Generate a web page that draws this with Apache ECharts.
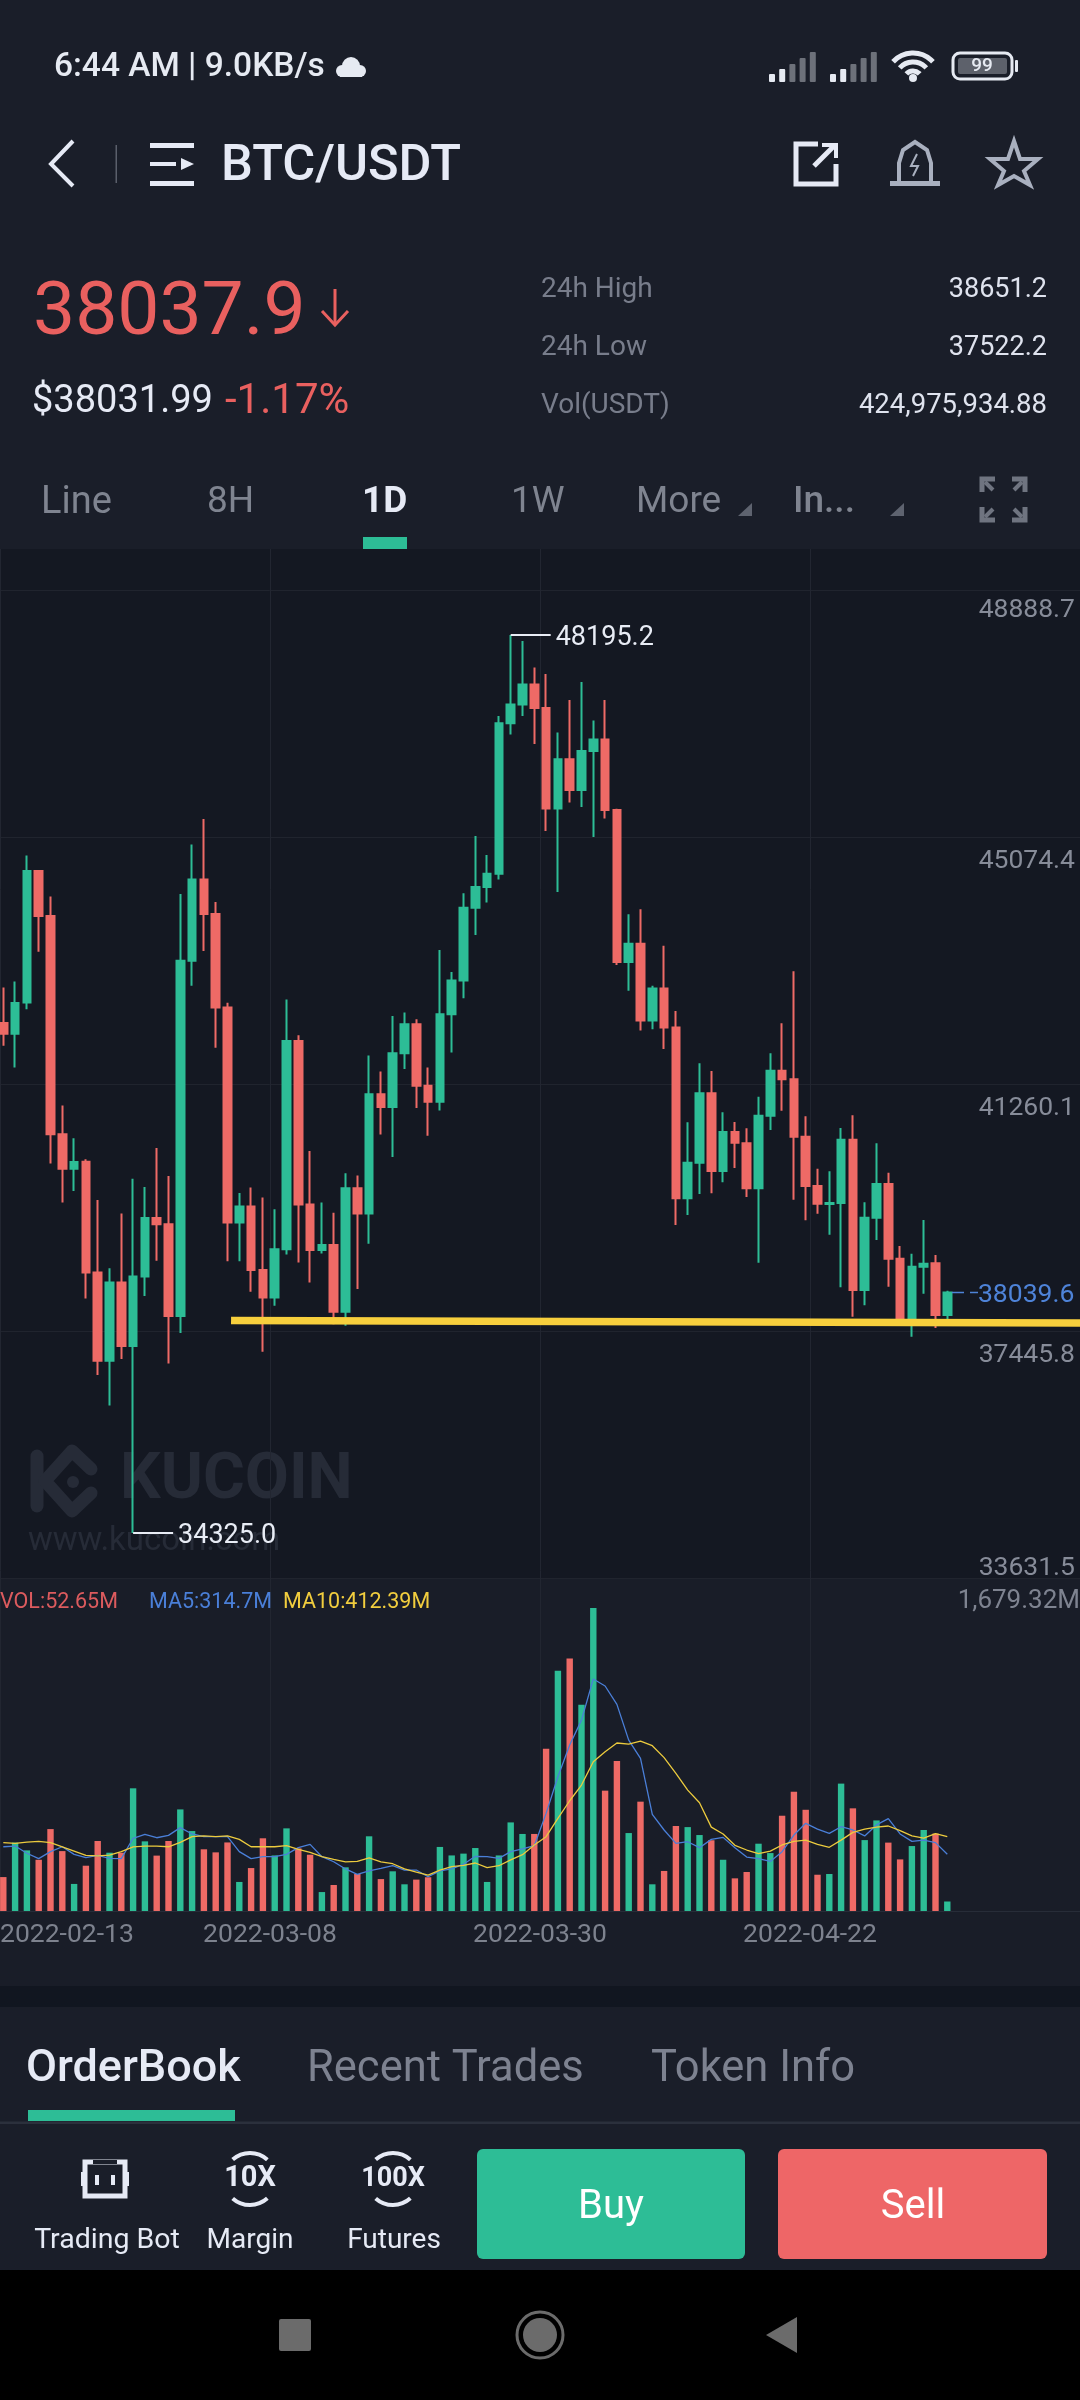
<!DOCTYPE html>
<html><head><meta charset="utf-8"><title>BTC/USDT</title>
<style>html,body{margin:0;padding:0;background:#000}#c{width:1080px;height:2400px}</style>
<script src="https://cdn.jsdelivr.net/npm/echarts@6/dist/echarts.min.js"></script>
</head><body><div id="c"></div><script>
const opens=[42202,42038,42518,44549,43854,40483,39953,40059,38349,36987,38195,37214,38289,39192,39094,37677,43164,44417,43887,42442,39121,39370,38388,37963,38707,41924,39398,38697,38774,37742,39651,39259,41101,40903,41736,42182,41234,40985,42337,42860,43980,44301,44505,46832,47119,47428,47068,45513,46275,45800,46401,46579,45492,43143,43424,42242,42733,42133,39495,40045,41117,39917,40519,40344,39650,40771,41466,41333,40446,39685,39407,39422,40400,38079,39195,39716,38562,37616,38439,38491,37693];
const closes=[42038,42512,44549,43854,40483,39953,40054,38349,36987,38195,37214,38289,39192,39094,37677,43164,44417,43887,42442,39121,39370,38388,37963,38707,41924,39398,38697,38774,37742,39651,39259,41101,40903,41736,42182,41234,40985,42337,42860,43980,44301,44505,46832,47119,47428,47068,45513,46275,45800,46401,46579,45492,43143,43424,42242,42733,42133,39495,40045,41117,39917,40519,40354,39650,40771,41466,41333,40446,39685,39412,39422,40400,38079,39195,39716,38562,37616,38439,38485,37693,38039.6];
const highs=[42750,42844,44790,44560,44157,40929,40423,40097,39469,38416,39259,39795,39670,40273,39839,44196,44957,45354,44069,42513,39578,39662,39507,39325,42564,42011,40225,39430,39270,39883,39849,41702,41455,42310,42364,42259,41515,43330,42988,44207,45088,44797,46942,48195.2,48100,47692,47593,46688,47190,47467,46875,47190,45509,43881,43958,42778,43396,42387,40669,41580,41461,40823,40673,40576,41064,41734,42198,43001,40761,39952,39912,40581,40777,39433,40344,39890,38758,38640,39160,38619,38068];
const lows=[41851,41515,42414,43301,40031,39430,39607,37946,36766,36297,37013,34325.0,37986,38531,36942,37416,42778,43313,41818,38521,38521,38051,37124,37836,38626,38504,38195,38641,37549,37528,38094,38794,40479,40131,41493,40891,40462,40852,41747,42585,43561,44063,44417,46656,46942,46512,45166,44224,45607,45536,45073,45359,43098,42701,42088,42105,41802,39083,39237,39561,39572,39742,39963,39515,38501,40550,40848,39474,39155,39257,38933,38120,37667,37843,38851,38130,37560,37358,38022,37492,37626];
const volumes=[188,379,336,284,454,332,150,251,388,323,323,680,386,307,388,563,443,342,325,380,161,238,403,308,458,347,312,105,144,242,205,414,177,220,148,174,187,355,308,318,349,161,308,491,427,427,899,1332,1400,1143,1679.32,667,831,432,606,148,222,471,465,421,392,284,181,216,373,321,528,661,561,201,205,706,569,393,502,379,286,360,449,429,52.65];
const ma5=[356,360,320,290,329,356,314,296,308,292,290,403,425,406,419,462,427,412,412,412,329,290,301,301,314,351,369,301,273,233,203,223,236,251,227,227,190,222,233,259,303,301,292,329,344,362,541,744,920,1058,1286,1247,1145,947,846,536,449,375,384,351,397,408,351,299,290,275,329,421,486,454,430,467,449,416,477,512,427,386,393,379,314.7];
const ma10=[379,375,382,386,379,356,332,308,305,310,329,355,360,360,356,380,412,416,412,416,397,356,356,356,362,342,325,301,286,272,275,294,272,262,233,216,199,227,246,253,266,240,251,283,312,366,412,513,611,698,827,883,931,925,942,916,850,763,670,600,465,427,364,338,318,332,366,386,393,369,353,393,436,454,465,471,445,416,404,429,412.39];
const priceTicks=[33631.5,37445.8,41260.1,45074.4,48888.7];
const dateTicks=['2022-02-13','2022-03-08','2022-03-30','2022-04-22'];
const trendPrices=[37609,37569];
const lastPrice=38039.6;
const volMaxLabel='1,679.32M';

const GREEN='#2dbd96',RED='#ee6a66',FONT='Roboto, sans-serif';
const categories=[];
for(let i=0;i<92;i++){categories.push(i<opens.length?new Date(Date.UTC(2022,1,13+i)).toISOString().slice(0,10):'');}
const candles=opens.map((o,i)=>[o,closes[i],lows[i],highs[i]]);
const volBars=volumes.map((v,i)=>({value:v,itemStyle:{color:closes[i]>=opens[i]?GREEN:RED}}));
const hiIdx=highs.indexOf(Math.max(...highs)),loIdx=lows.indexOf(Math.min(...lows));

const g=[];
function R(x,y,w,h,fill,r,z){g.push({type:'rect',z:z??-1,silent:true,shape:{x,y,width:w,height:h,r:r||0},style:{fill}});}
function T(text,x,y,size,fill,o){o=o||{};g.push({type:'text',z:o.z??5,silent:true,style:{text,x,y:y+(o.dy??3),fill,font:(o.w||400)+' '+size+'px '+FONT,align:o.a||'left',verticalAlign:'middle'}});}
function P(points,stroke,lw,o){o=o||{};g.push({type:o.fillc?'polygon':'polyline',z:o.z??5,silent:true,shape:{points},style:{stroke,lineWidth:lw,fill:o.fillc||null,lineCap:o.cap||'butt',lineJoin:o.join||'miter'}});}
function C(cx,cy,r,fill,stroke,lw,z){g.push({type:'circle',z:z??5,silent:true,shape:{cx,cy,r},style:{fill:fill||null,stroke:stroke||null,lineWidth:lw||0}});}
function A(cx,cy,r,s,e,stroke,lw){g.push({type:'arc',z:5,silent:true,shape:{cx,cy,r,startAngle:s,endAngle:e},style:{stroke,lineWidth:lw,fill:null}});}

// panels
R(0,0,1080,549,'#1a1e29');
R(0,549,1080,1029,'#141822');
R(0,1578,1080,408,'#191d28');
R(0,1986,1080,21,'#111620');
R(0,2007,1080,263,'#1a1e29');
R(0,2270,1080,130,'#000');

// status bar
T('6:44 AM | 9.0KB/s',54,68,33.5,'#e6eaf2',{w:500,dy:0});
C(351,66,9,'#e6eaf2');C(342,71,6,'#e6eaf2');C(360,71,6,'#e6eaf2');R(340,70,22,7,'#e6eaf2',0,5);
[[769],[830]].forEach(([x0])=>{[8,13,18,24,30].forEach((h,i)=>R(x0+i*10.2,82-h,6,h,i<2?'#e6eaf2':'#6d717a',1,5));});
A(913,80,27,-2.4,-0.74,'#e6eaf2',5);A(913,80,18,-2.4,-0.74,'#e6eaf2',5);A(913,80,9,-2.4,-0.74,'#e6eaf2',5);C(913,78,4,'#e6eaf2');
g.push({type:'rect',z:5,silent:true,shape:{x:953,y:53,width:59,height:26,r:7},style:{stroke:'#e6eaf2',lineWidth:3,fill:null}});
R(958,58,49,16,'#5d616b',2,5);R(1015,60,3,12,'#e6eaf2',1,5);
T('99',982,66,19,'#e6eaf2',{a:'center',w:500,dy:0});

// nav
P([[73,141],[51,164],[73,186]],'#e6eaf5',4);
R(115.5,145,1.5,38,'#5a5f6b',0,5);
R(150,143,44,5,'#e6eaf5',0,5);R(150,181,44,5,'#e6eaf5',0,5);R(150,162,26,4,'#e6eaf5',0,5);
P([[181,158],[194,164],[181,170]],null,0,{fillc:'#e6eaf5'});
T('BTC/USDT',221,164,50.5,'#e6eaf5',{w:500});
P([[818,144],[796,144],[796,184],[836,184],[836,164]],'#e6eaf5',5);
P([[814,166],[834,146]],'#e6eaf5',5);P([[822,145],[836,145],[836,158]],'#e6eaf5',4);
P([[899,182],[899,163],[903,150],[915,142],[927,150],[931,163],[931,182]],'#a9b0bf',4);
R(890,181,50,5,'#a9b0bf',0,5);P([[917,154],[911,166],[918,166],[913,176]],'#a9b0bf',2);
P([[1014,141],[1020,159],[1038,159],[1024,171],[1030,185],[1014,176],[998,185],[1004,171],[990,159],[1008,159]],'#a9b0bf',4,{fillc:'#1a1e29'});

// price block
T('38037.9',33,308,75,'#e9605f',{dy:7});
P([[335,289],[335,324]],'#e9605f',3);P([[322,311],[335,325],[348,311]],'#e9605f',3);
T('$38031.99',32,399,38,'#e6eaf5');
T('-1.17%',225,399,42,'#e9605f');
T('24h High',541,287,28,'#787d8b');T('38651.2',1047,287,27,'#dfe3ee',{a:'right'});
T('24h Low',541,345,28,'#787d8b');T('37522.2',1047,345,27,'#dfe3ee',{a:'right'});
T('Vol(USDT)',541,403,28,'#787d8b');T('424,975,934.88',1047,403,27.5,'#dfe3ee',{a:'right'});

// tabs
T('Line',41,500,38,'#7f8490');T('8H',207,500,37,'#7f8490');T('1D',362,500,37,'#e6eaf5',{w:700});
T('1W',511,500,37,'#7f8490');T('More',636,500,37,'#7f8490');T('In...',793,500,37,'#7f8490',{w:500});
P([[738,516],[752,516],[752,503]],null,0,{fillc:'#5e636f'});P([[890,516],[904,516],[904,503]],null,0,{fillc:'#5e636f'});
R(363,537,44,12,GREEN,0,5);
[[[982,492],[982,479],[995,479]],[[1025,492],[1025,479],[1012,479]],[[982,507],[982,520],[995,520]],[[1025,507],[1025,520],[1012,520]]].forEach(p=>P(p,'#6f7480',5));
P([[985,482],[993,490]],'#6f7480',4);P([[1022,482],[1014,490]],'#6f7480',4);P([[985,517],[993,509]],'#6f7480',4);P([[1022,517],[1014,509]],'#6f7480',4);

// watermark
P([[37,1456],[37,1506]],'#262b37',13,{cap:'round',z:0});
P([[91,1469],[72,1451],[45,1481],[72,1511],[91,1493]],'#262b37',13,{cap:'round',join:'round',z:0});
C(73,1482,6,'#262b37',null,0,0);
g.push({type:'text',z:0,silent:true,style:{text:'KUCOIN',x:120,y:1482,fill:'#262b37',font:'700 64px '+FONT,align:'left',verticalAlign:'middle'}});
g.push({type:'text',z:0,silent:true,style:{text:'www.kucoin.com',x:28,y:1542,fill:'#262b37',font:'400 33px '+FONT,align:'left',verticalAlign:'middle'}});

// legend of the volume panel
T('VOL:52.65M',0,1600,21.5,'#dc5b5e');T('MA5:314.7M',149,1600,21.5,'#4a7fd8');T('MA10:412.39M',283,1600,21.5,'#f1cd3e');

// bottom
T('OrderBook',26,2066,45,'#e6eaf5',{w:500,dy:4});T('Recent Trades',307,2066,43.5,'#7d8290',{dy:4});T('Token Info',651,2066,43.5,'#7d8290',{dy:4});
R(28,2110,207,11,GREEN,0,5);R(0,2121.5,1080,2.5,'#2b303c',0,4);
R(477,2149,268,110,GREEN,6,5);R(778,2149,269,110,'#ee6667',6,5);
T('Buy',611,2205,40,'#ffffff',{a:'center'});T('Sell',913,2205,40,'#ffffff',{a:'center'});
T('Trading Bot',107,2238,28.5,'#e6eaf5',{a:'center'});T('Margin',250,2238,28,'#e6eaf5',{a:'center'});T('Futures',394,2238,28,'#e6eaf5',{a:'center'});
g.push({type:'rect',z:5,silent:true,shape:{x:85,y:2162,width:40,height:34},style:{stroke:'#e6eaf5',lineWidth:5,fill:null}});
R(81,2172,3,14,'#e6eaf5',0,5);R(126,2172,3,14,'#e6eaf5',0,5);R(95,2175,4,10,'#e6eaf5',0,5);R(111,2175,4,10,'#e6eaf5',0,5);R(93,2160,24,4,'#1a1e29',0,5);
T('10X',250,2179,29,'#e6eaf5',{a:'center',w:700,dy:0});T('100X',393,2179,27,'#e6eaf5',{a:'center',w:700,dy:0});
[[250,23],[393,23]].forEach(([c])=>{A(c,2179,26,-2.3,-0.84,'#e6eaf5',4);A(c,2179,26,0.84,2.3,'#e6eaf5',4);});
R(279,2319,32,32,'#6b6b6b',2,5);
C(540,2335,23,null,'#6b6b6b',3);C(540,2335,17,'#6b6b6b');
P([[797,2317],[766,2335],[797,2353]],null,0,{fillc:'#6b6b6b'});

const yLabelStyle=(pad)=>({color:'#878c99',fontSize:26.5,fontFamily:FONT,padding:pad});
const option={
  animation:false,backgroundColor:'#000',
  grid:[
    {left:-2.6,width:1085.6,top:590,height:988,outerBoundsMode:'none'},
    {left:-2.6,width:1085.6,top:1608,height:303,outerBoundsMode:'none'},
    {left:0,width:1080,top:549,height:1362,outerBoundsMode:'none'}
  ],
  xAxis:[
    {type:'category',gridIndex:0,data:categories,show:false,boundaryGap:true},
    {type:'category',gridIndex:1,data:categories,boundaryGap:true,axisLabel:{show:false},axisTick:{show:false},axisLine:{lineStyle:{color:'#272c38',width:1}}},
    {type:'value',gridIndex:2,min:0,max:4,interval:1,axisLine:{show:false},axisTick:{show:false},
      splitLine:{show:true,lineStyle:{color:'#222631',width:1}},
      axisLabel:{show:true,margin:11,color:'#7d828e',fontSize:26.5,fontFamily:FONT,alignMinLabel:'left',showMaxLabel:false,formatter:v=>dateTicks[v]||''}},
    {type:'value',gridIndex:0,min:-0.5,max:91.5,show:false}
  ],
  yAxis:[
    {type:'value',gridIndex:0,position:'right',min:priceTicks[0],max:priceTicks[4],scale:true,
      axisLine:{show:false},axisTick:{show:false,customValues:priceTicks},
      splitLine:{show:true,lineStyle:{color:'#20242e',width:1}},
      axisLabel:{inside:true,margin:8,customValues:priceTicks,showMinLabel:true,showMaxLabel:true,
        formatter:v=>{const s=v.toFixed(1);if(v===priceTicks[4])return '{a|'+s+'}';if(v===priceTicks[0])return '{c|'+s+'}';return '{b|'+s+'}';},
        rich:{a:yLabelStyle([40,0,0,0]),b:yLabelStyle([49,0,0,0]),c:yLabelStyle([0,0,20,0])}}},
    {type:'value',gridIndex:1,position:'right',min:0,max:1679.32,
      axisLine:{show:false},axisTick:{show:false,customValues:[1679.32]},splitLine:{show:false},
      axisLabel:{inside:true,margin:3,customValues:[1679.32],showMaxLabel:true,formatter:()=>'{v|'+volMaxLabel+'}',rich:{v:{color:'#7e8390',fontSize:26,fontFamily:FONT,padding:[0,0,14,0]}}}},
    {type:'value',gridIndex:2,min:0,max:1,show:false}
  ],
  graphic:{elements:g},
  series:[
    {name:'Kline',type:'candlestick',xAxisIndex:0,yAxisIndex:0,data:candles,barWidth:8.2,z:3,
      itemStyle:{color:GREEN,color0:RED,borderColor:GREEN,borderColor0:RED,borderWidth:2},
      markPoint:{silent:true,symbol:'rect',symbolSize:[40,2],itemStyle:{color:'#e8ecf5'},
        label:{show:true,position:'right',distance:5,offset:[0,3],color:'#e8ecf5',fontSize:27,fontFamily:FONT,formatter:p=>p.value.toFixed(1)},
        data:[
          {coord:[hiIdx,highs[hiIdx]],value:highs[hiIdx],symbolOffset:[20,0]},
          {coord:[loIdx,lows[loIdx]],value:lows[loIdx],symbolOffset:[20,0]}
        ]}},
    {name:'Trend',type:'line',xAxisIndex:3,yAxisIndex:0,z:6,symbol:'none',silent:true,
      data:[[19.3,trendPrices[0]],[91.5,trendPrices[1]]],lineStyle:{color:'#f7cf3d',width:7.5}},
    {name:'Last',type:'line',xAxisIndex:3,yAxisIndex:0,z:4,symbol:'none',silent:true,
      data:[[80.4,lastPrice],[82.6,lastPrice]],lineStyle:{color:'#4e83d8',width:1.5,type:[12,6]},
      endLabel:{show:true,distance:0,offset:[0,3],color:'#4e83d8',fontSize:26.5,fontFamily:FONT,formatter:()=>lastPrice.toFixed(1)}},
    {name:'VOL',type:'bar',xAxisIndex:1,yAxisIndex:1,data:volBars,barWidth:6.4,z:2},
    {name:'MA5',type:'line',xAxisIndex:1,yAxisIndex:1,data:ma5,symbol:'none',z:4,silent:true,lineStyle:{color:'#4a7fd8',width:1.3}},
    {name:'MA10',type:'line',xAxisIndex:1,yAxisIndex:1,data:ma10,symbol:'none',z:4,silent:true,lineStyle:{color:'#eccb3e',width:1.3}}
  ]
};
const chart=echarts.init(document.getElementById('c'),null,{width:1080,height:2400,renderer:'canvas'});
chart.setOption(option);
</script></body></html>
